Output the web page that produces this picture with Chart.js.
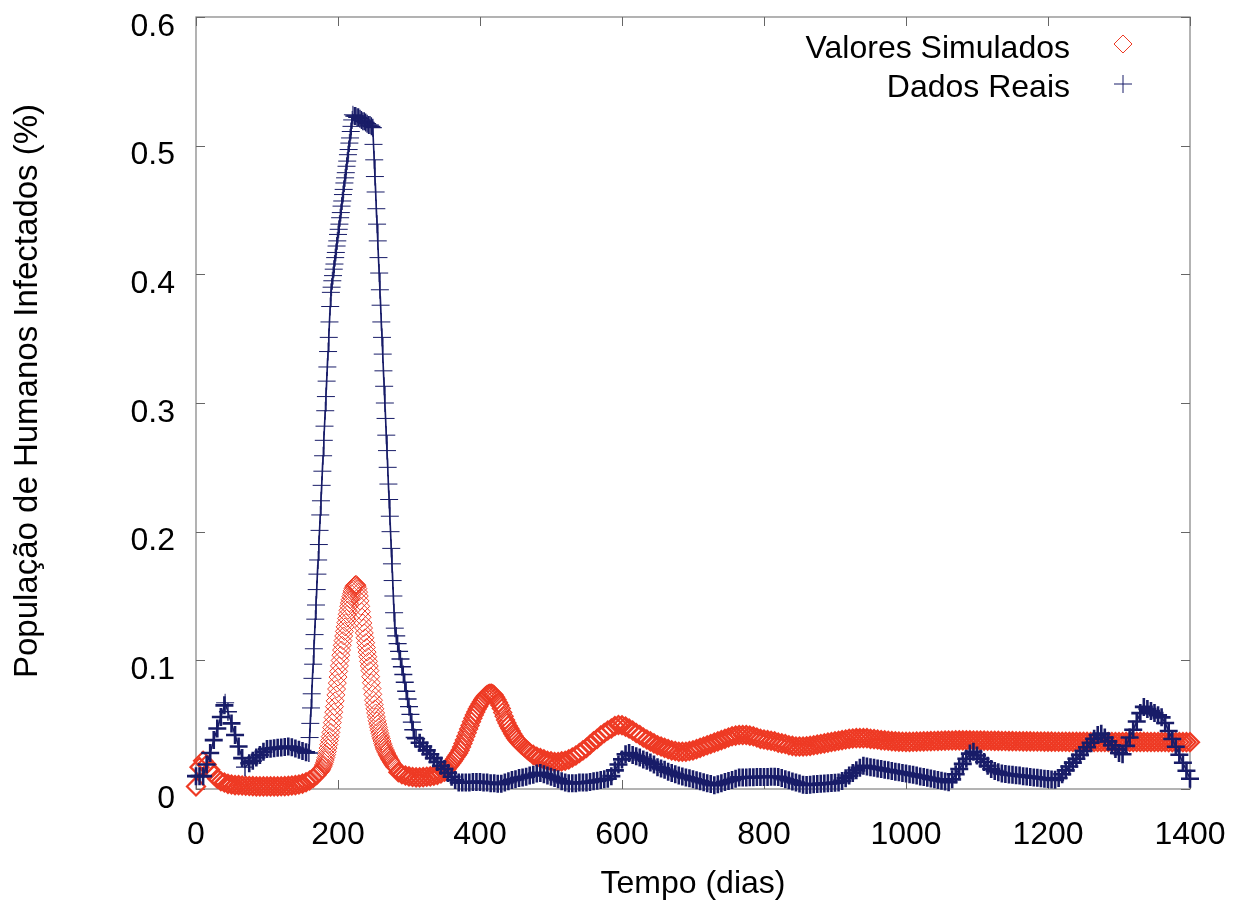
<!DOCTYPE html>
<html>
<head>
<meta charset="utf-8">
<script src="https://cdn.jsdelivr.net/npm/chart.js@4.4.1/dist/chart.umd.min.js"></script>
<style>
html,body{margin:0;padding:0;background:#fff;}
#wrap{width:1245px;height:909px;position:relative;}
canvas{display:block;}
</style>
</head>
<body>
<div id="wrap"><canvas id="c" width="1245" height="909"></canvas></div>
<script>
// ---------- data ----------
const seriesNames = ['Valores Simulados', 'Dados Reais'];
const xTickLabels = ['0', '200', '400', '600', '800', '1000', '1200', '1400'];
const yTickLabels = ['0', '0.1', '0.2', '0.3', '0.4', '0.5', '0.6'];
const xTitle = 'Tempo (dias)';
const yTitle = 'População de Humanos Infectados (%)';

// simulated series: days and values
const simDays = [
  0,5,10,15,20,25,30,35,40,45,
  50,55,60,65,70,75,80,85,90,95,
  100,105,110,115,120,125,130,135,140,145,
  150,155,160,165,
  170,171,172,173,174,175,176,177,178,179,
  180,181,182,183,184,185,186,187,188,189,
  190,191,192,193,194,195,196,197,198,199,
  200,201,202,203,204,205,206,207,208,209,
  210,211,212,213,214,215,216,217,218,219,
  220,221,222,223,224,225,226,227,228,229,
  230,231,232,233,234,235,236,237,238,239,
  240,241,242,243,244,245,246,247,248,249,
  250,251,252,253,254,255,256,257,258,259,
  260,261,262,263,264,265,266,267,268,269,
  270,271,272,273,274,275,276,277,278,279,
  280,
  285,290,295,300,305,310,315,320,325,330,335,340,345,
  350,352,354,356,358,360,362,364,366,368,
  370,372,374,376,378,380,382,384,386,388,
  390,392,394,396,398,400,402,404,406,408,
  410,412,414,416,418,420,422,424,426,428,
  430,432,434,436,438,440,442,444,446,448,
  450,452,454,456,458,460,462,464,466,468,
  470,
  475,480,485,490,495,
  500,505,510,515,520,525,530,535,540,545,
  550,555,560,565,570,575,580,585,590,595,
  600,605,610,615,620,625,630,635,640,645,
  650,655,660,665,670,675,680,685,690,695,
  700,705,710,715,720,725,730,735,740,745,
  750,755,760,765,770,775,780,785,790,795,
  800,805,810,815,820,825,830,835,840,845,
  850,855,860,865,870,875,880,885,890,895,
  900,905,910,915,920,925,930,935,940,945,
  950,955,960,965,970,975,980,985,990,995,
  1000,1005,1010,1015,1020,1025,1030,1035,1040,1045,
  1050,1055,1060,1065,1070,1075,1080,1085,1090,1095,
  1100,1105,1110,1115,1120,1125,1130,1135,1140,1145,
  1150,1155,1160,1165,1170,1175,1180,1185,1190,1195,
  1200,1205,1210,1215,1220,1225,1230,1235,1240,1245,
  1250,1255,1260,1265,1270,1275,1280,1285,1290,1295,
  1300,1305,1310,1315,1320,1325,1330,1335,1340,1345,
  1350,1355,1360,1365,1370,1375,1380,1385,1390,1395,
  1400
];
const simValues = [
  0.002,0.017,0.022,0.019,0.015,0.011,0.008,0.006,0.005,0.004,
  0.0035,0.003,0.003,0.0027,0.0025,0.0023,0.0022,0.002,0.002,0.002,
  0.002,0.002,0.002,0.002,0.0021,0.0022,0.0024,0.0027,0.003,0.0035,
  0.0042,0.0052,0.0066,0.0085,
  0.011,0.0115,0.012,0.0125,0.013,0.0135,0.0144,0.0154,0.0165,0.0177,
  0.019,0.0207,0.0225,0.0245,0.0267,0.029,0.0318,0.0346,0.0376,0.0407,
  0.044,0.0477,0.0516,0.0556,0.0597,0.064,0.0685,0.0731,0.0777,0.0823,
  0.087,0.0914,0.0957,0.0999,0.104,0.108,0.1117,0.1153,0.1189,0.1225,
  0.126,0.1293,0.1326,0.1358,0.1389,0.142,0.1446,0.1471,0.1495,0.1518,
  0.154,0.1556,0.1569,0.1579,0.1586,0.159,0.1588,0.1577,0.1557,0.153,
  0.150,0.1462,0.142,0.1378,0.1335,0.129,0.1251,0.1213,0.1175,0.1137,
  0.110,0.1064,0.1028,0.0992,0.0956,0.092,0.0873,0.0826,0.0781,0.0736,
  0.069,0.0656,0.0623,0.0591,0.056,0.053,0.0505,0.048,0.0456,0.0433,
  0.041,0.0391,0.0373,0.0354,0.0337,0.032,0.0307,0.0295,0.0283,0.0271,
  0.026,0.025,0.024,0.023,0.022,0.021,0.0202,0.0194,0.0186,0.0178,
  0.017,
  0.013,0.0115,0.0105,0.0098,0.0093,0.009,0.009,0.0092,0.0095,0.0098,0.0103,0.011,0.012,
  0.0135,0.0146,0.0158,0.0172,0.0186,0.020,0.0216,0.0232,0.0248,0.0264,
  0.028,0.0302,0.0326,0.0353,0.0381,0.041,0.0438,0.0466,0.0494,0.0522,
  0.055,0.0575,0.0599,0.0621,0.0641,0.066,0.0679,0.0696,0.0712,0.0725,
  0.0735,0.0741,0.0745,0.0745,0.0741,0.073,0.0713,0.0694,0.0673,0.065,
  0.0625,0.0595,0.0565,0.0537,0.0513,0.049,0.047,0.045,0.043,0.0412,
  0.0395,0.0381,0.0367,0.0355,0.0344,0.0335,0.0325,0.0315,0.0305,0.0295,
  0.0285,
  0.0265,0.025,0.024,0.023,0.022,
  0.0215,0.021,0.021,0.0215,0.022,0.023,0.0245,0.026,0.028,0.030,
  0.032,0.0345,0.037,0.039,0.0415,0.0435,0.0455,0.047,0.049,0.0497,
  0.0495,0.0485,0.047,0.0455,0.0435,0.042,0.040,0.0385,0.037,0.0355,
  0.034,0.033,0.032,0.031,0.030,0.0295,0.029,0.029,0.029,0.0295,
  0.030,0.031,0.032,0.033,0.034,0.035,0.036,0.037,0.038,0.039,
  0.040,0.041,0.0415,0.042,0.042,0.042,0.0415,0.041,0.040,0.039,
  0.0385,0.038,0.0375,0.037,0.036,0.0355,0.035,0.034,0.0335,0.033,
  0.033,0.033,0.0332,0.0335,0.034,0.0345,0.035,0.0355,0.036,0.0365,
  0.037,0.0375,0.038,0.0385,0.039,0.0392,0.0395,0.0395,0.0395,0.0395,
  0.039,0.0388,0.0385,0.038,0.0378,0.0375,0.0372,0.037,0.0368,0.0367,
  0.0366,0.0366,0.0367,0.0368,0.0369,0.037,0.0371,0.0372,0.0373,0.0374,
  0.0375,0.0376,0.0377,0.0377,0.0378,0.0378,0.0378,0.0378,0.0378,0.0377,
  0.0377,0.0376,0.0376,0.0375,0.0375,0.0374,0.0374,0.0373,0.0373,0.0372,
  0.0372,0.0371,0.0371,0.037,0.037,0.037,0.0369,0.0369,0.0369,0.0368,
  0.0368,0.0368,0.0367,0.0367,0.0367,0.0367,0.0366,0.0366,0.0366,0.0366,
  0.0366,0.0366,0.0365,0.0365,0.0365,0.0365,0.0365,0.0365,0.0365,0.0365,
  0.0365,0.0365,0.0366,0.0366,0.0366,0.0366,0.0366,0.0366,0.0365,0.0365,
  0.0365,0.0365,0.0365,0.0365,0.0364,0.0364,0.0364,0.0364,0.0364,0.0364,
  0.0364
];

const realDays = [
  0,5,10,15,20,25,30,35,40,41,
  45,50,55,60,65,69,75,80,85,90,
  95,100,105,110,115,120,125,130,135,140,
  145,150,155,
  159,160,161,162,163,164,165,166,167,168,
  169,170,171,172,173,174,175,176,177,178,
  179,180,181,182,183,184,185,186,187,188,
  189,190,191,192,193,194,195,196,197,198,
  199,200,201,202,203,204,205,206,207,208,
  209,210,211,212,213,214,215,216,217,218,
  219,220,221,
  223,225,227,229,231,233,235,237,239,241,243,245,247,
  249,250,251,252,253,254,255,256,257,258,
  259,260,261,262,263,264,265,266,267,268,
  269,270,271,272,273,274,275,276,277,278,
  279,280,
  282,284,286,288,290,292,294,296,298,300,302,304,306,308,
  310,315,320,325,330,335,340,345,350,355,
  360,365,370,375,380,385,390,395,400,405,
  410,415,420,425,430,435,440,445,450,455,
  460,465,470,475,480,485,490,495,500,505,
  510,515,520,525,530,535,540,545,550,555,
  560,565,570,575,580,585,590,595,600,605,
  610,615,620,625,630,635,640,645,650,655,
  660,665,670,675,680,685,690,695,700,705,
  710,715,720,725,730,735,740,745,750,755,
  760,765,770,775,780,785,790,795,800,805,
  810,815,820,825,830,835,840,845,850,855,
  860,865,870,875,880,885,890,895,900,905,
  910,915,920,925,930,935,940,945,950,955,
  960,965,970,975,980,985,990,995,1000,1005,
  1010,1015,1020,1025,1030,1035,1040,1045,1050,1055,
  1060,1065,1070,1075,1080,1085,1090,1095,1100,1105,
  1110,1115,1120,1125,1130,1135,1140,1145,1150,1155,
  1160,1165,1170,1175,1180,1185,1190,1195,1200,1205,
  1210,1215,1220,1225,1230,1235,1240,1245,1250,1255,
  1260,1265,1270,1275,1280,1285,1290,1295,1300,1305,
  1310,1315,1320,1325,1330,1335,1340,1345,1350,1355,
  1360,1365,1370,1375,1380,1385,1390,1395,1400
];
const realValues = [
  0.010,0.010,0.010,0.019,0.028,0.038,0.047,0.056,0.065,0.067,
  0.060,0.051,0.042,0.033,0.024,0.017,0.020,0.022,0.0245,0.0265,
  0.029,0.031,0.0313,0.0316,0.032,0.0323,0.0326,0.033,0.0325,0.0315,
  0.0305,0.0295,0.0285,
  0.028,0.040,0.051,0.063,0.074,0.086,0.097,0.109,0.120,0.132,
  0.143,0.155,0.167,0.178,0.190,0.201,0.213,0.224,0.236,0.247,
  0.259,0.271,0.282,0.294,0.305,0.317,0.328,0.340,0.351,0.363,
  0.375,0.386,0.390,0.395,0.399,0.404,0.408,0.413,0.417,0.422,
  0.426,0.431,0.435,0.439,0.444,0.448,0.453,0.457,0.462,0.466,
  0.471,0.475,0.479,0.484,0.488,0.493,0.497,0.502,0.506,0.511,
  0.515,0.520,0.524,
  0.523,0.523,0.522,0.522,0.521,0.520,0.519,0.519,0.518,0.517,0.516,0.516,0.515,
  0.514,0.501,0.489,0.476,0.464,0.451,0.439,0.426,0.413,0.401,
  0.388,0.376,0.363,0.351,0.338,0.325,0.313,0.300,0.288,0.275,
  0.263,0.250,0.237,0.225,0.212,0.200,0.187,0.175,0.162,0.150,
  0.137,0.125,
  0.119,0.113,0.107,0.101,0.095,0.089,0.083,0.076,0.070,0.064,0.058,0.052,0.046,0.040,
  0.039,0.036,0.033,0.030,0.027,0.024,0.021,0.018,0.0155,0.0125,
  0.0095,0.007,0.005,0.005,0.005,0.005,0.0055,0.0055,0.0055,0.005,
  0.005,0.0045,0.0045,0.004,0.004,0.005,0.006,0.007,0.0075,0.0085,
  0.009,0.0095,0.0105,0.011,0.012,0.0125,0.0115,0.0105,0.0095,0.0085,
  0.0075,0.006,0.005,0.0045,0.0045,0.0045,0.005,0.005,0.005,0.0055,
  0.006,0.0065,0.007,0.0075,0.008,0.010,0.0145,0.019,0.023,0.027,
  0.028,0.0265,0.0255,0.0245,0.023,0.022,0.0205,0.019,0.017,0.016,
  0.015,0.0135,0.0125,0.0115,0.0105,0.0098,0.009,0.0083,0.0075,0.0068,
  0.006,0.0053,0.0045,0.0038,0.003,0.0037,0.0045,0.0054,0.0062,0.007,
  0.008,0.009,0.009,0.009,0.0092,0.0092,0.0093,0.0093,0.0094,0.0094,
  0.0095,0.0095,0.0093,0.0085,0.0076,0.0068,0.0059,0.005,0.0042,0.0033,
  0.0032,0.0034,0.0036,0.0038,0.004,0.0042,0.0044,0.0046,0.0048,0.005,
  0.0063,0.0083,0.0104,0.0124,0.0145,0.0165,0.018,0.0175,0.017,0.0165,
  0.016,0.0155,0.015,0.0145,0.014,0.0135,0.013,0.0125,0.012,0.0115,
  0.011,0.0105,0.0098,0.0093,0.0087,0.0081,0.0075,0.007,0.0064,0.0058,
  0.0052,0.0075,0.0115,0.0155,0.0195,0.0235,0.0275,0.029,0.026,0.0235,
  0.021,0.018,0.0155,0.014,0.013,0.012,0.0117,0.0113,0.011,0.0107,
  0.0104,0.010,0.0097,0.0094,0.009,0.0087,0.0084,0.008,0.0077,0.0074,
  0.0071,0.0085,0.0115,0.0145,0.0175,0.0205,0.0235,0.0265,0.0295,0.0325,
  0.036,0.039,0.042,0.043,0.040,0.037,0.034,0.031,0.028,0.027,
  0.0335,0.040,0.046,0.0525,0.059,0.0638,0.0622,0.0606,0.059,0.0573,
  0.0557,0.0513,0.0451,0.0389,0.0328,0.0266,0.0204,0.0142,0.008
];

// ---------- styling ----------
const FONT = '"Liberation Sans", Arial, Helvetica, sans-serif';
const RED = 'rgb(238,58,36)';
const BLUE = 'rgb(24,28,104)';

const simPoints = simDays.map((d, i) => ({x: d, y: simValues[i]}));
const realPoints = realDays.map((d, i) => ({x: d, y: realValues[i]}));

// thicker marker strokes where samples are sparser, so the bands read as dense as the original
function strokeByGap(days, wide, mid) {
  return ctx => {
    const i = ctx.dataIndex;
    const gap = i > 0 ? days[i] - days[i - 1] : days[1] - days[0];
    return gap >= 5 ? wide : (gap >= 2 ? mid : 1);
  };
}

const framePlugin = {
  id: 'frame',
  beforeDatasetsDraw(chart) {
    const {ctx, chartArea: a, scales: {x, y}} = chart;
    ctx.save();
    ctx.strokeStyle = '#8a8a8a';
    ctx.lineWidth = 1.3;
    ctx.strokeRect(a.left, a.top, a.right - a.left, a.bottom - a.top);
    ctx.strokeStyle = '#666';
    ctx.lineWidth = 1;
    const T = 9;
    ctx.beginPath();
    x.ticks.forEach(t => {
      const px = Math.round(x.getPixelForValue(t.value)) + 0.5;
      ctx.moveTo(px, a.bottom); ctx.lineTo(px, a.bottom - T);
      ctx.moveTo(px, a.top); ctx.lineTo(px, a.top + T);
    });
    y.ticks.forEach(t => {
      const py = Math.round(y.getPixelForValue(t.value)) + 0.5;
      ctx.moveTo(a.left, py); ctx.lineTo(a.left + T, py);
      ctx.moveTo(a.right, py); ctx.lineTo(a.right - T, py);
    });
    ctx.stroke();
    ctx.restore();
  }
};

const textPlugin = {
  id: 'gpText',
  afterDraw(chart) {
    const {ctx, chartArea: a} = chart;
    ctx.save();
    // y axis title
    ctx.font = '33px ' + FONT;
    ctx.fillStyle = '#000';
    ctx.textAlign = 'center';
    ctx.textBaseline = 'middle';
    ctx.translate(28, (a.top + a.bottom) / 2 - 12);
    ctx.rotate(-Math.PI / 2);
    ctx.fillText(yTitle, 0, 0);
    ctx.restore();

    // legend (gnuplot style: text then sample)
    const textX = a.right - 120;
    const markX = a.right - 67;
    const rows = [
      {label: seriesNames[0], ty: a.top + 32, my: a.top + 27, kind: 'diamond', color: RED},
      {label: seriesNames[1], ty: a.top + 71, my: a.top + 67, kind: 'plus', color: BLUE}
    ];
    ctx.save();
    ctx.font = '32px ' + FONT;
    ctx.fillStyle = '#000';
    ctx.textAlign = 'right';
    ctx.textBaseline = 'middle';
    rows.forEach(r => {
      ctx.fillText(r.label, textX, r.ty);
      ctx.strokeStyle = r.color;
      ctx.lineWidth = 1;
      ctx.beginPath();
      const R = 9;
      if (r.kind === 'diamond') {
        ctx.moveTo(markX - R, r.my); ctx.lineTo(markX, r.my - R);
        ctx.lineTo(markX + R, r.my); ctx.lineTo(markX, r.my + R); ctx.closePath();
      } else {
        ctx.moveTo(markX - R, r.my); ctx.lineTo(markX + R, r.my);
        ctx.moveTo(markX, r.my - R); ctx.lineTo(markX, r.my + R);
      }
      ctx.stroke();
    });
    ctx.restore();
  }
};

function noPad(s) { s.paddingLeft = 0; s.paddingRight = 0; s.paddingTop = 0; s.paddingBottom = 0; }

new Chart(document.getElementById('c'), {
  type: 'scatter',
  data: {
    datasets: [
      {
        label: seriesNames[1],
        data: realPoints,
        showLine: true,
        borderColor: BLUE,
        borderWidth: 1.6,
        pointStyle: 'cross',
        pointRadius: 9,
        pointBorderColor: BLUE,
        pointBorderWidth: strokeByGap(realDays, 2.6, 1.4),
        pointBackgroundColor: 'rgba(0,0,0,0)',
        clip: false
      },
      {
        label: seriesNames[0],
        data: simPoints,
        showLine: false,
        pointStyle: 'rectRot',
        pointRadius: 9,
        pointBorderColor: RED,
        pointBorderWidth: strokeByGap(simDays, 2.2, 1.4),
        pointBackgroundColor: 'rgba(0,0,0,0)',
        clip: false
      }
    ]
  },
  options: {
    responsive: false,
    animation: false,
    events: [],
    devicePixelRatio: 1,
    layout: {padding: {left: 0, top: 17, right: 55, bottom: 0}},
    plugins: {legend: {display: false}, tooltip: {enabled: false}},
    scales: {
      x: {
        type: 'linear',
        min: 0,
        max: 1400,
        afterFit(s) { s.height = 120; noPad(s); },
        afterBuildTicks(s) { s.ticks = xTickLabels.map(l => ({value: Number(l)})); },
        grid: {display: false},
        border: {display: false},
        ticks: {
          autoSkip: false, maxRotation: 0, minRotation: 0,
          padding: 22, color: '#000',
          font: {family: FONT, size: 32, lineHeight: 1},
          callback: (v, i) => xTickLabels[i]
        },
        title: {
          display: true, text: xTitle, color: '#000',
          font: {family: FONT, size: 32, lineHeight: 1.2},
          padding: {top: 0, bottom: 6}
        }
      },
      y: {
        type: 'linear',
        min: 0,
        max: 0.6,
        afterFit(s) { s.width = 196; noPad(s); },
        afterBuildTicks(s) { s.ticks = yTickLabels.map(l => ({value: Number(l)})); },
        grid: {display: false},
        border: {display: false},
        ticks: {
          autoSkip: false, padding: 13, labelOffset: 10, color: '#000',
          font: {family: FONT, size: 32, lineHeight: 1},
          callback: (v, i) => yTickLabels[i]
        },
        title: {display: false}
      }
    }
  },
  plugins: [framePlugin, textPlugin]
});
</script>
</body>
</html>
